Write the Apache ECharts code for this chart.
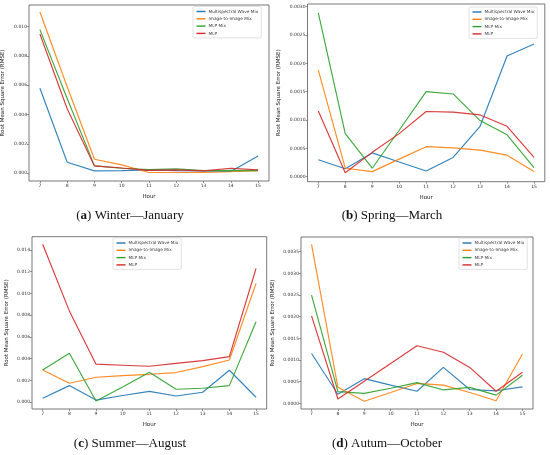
<!DOCTYPE html>
<html>
<head>
<meta charset="utf-8">
<script src="https://cdn.jsdelivr.net/npm/echarts@6/dist/echarts.min.js"></script>
<style>html,body{margin:0;padding:0;background:#fff}#c{width:550px;height:455px}</style>
</head>
<body>
<div id="c"></div>
<script>
const hours = [7, 8, 9, 10, 11, 12, 13, 14, 15];
const seriesNames = ['Multispectral Wave Mix', 'Image-to-Image Mix', 'MLP Mix', 'MLP'];
const seriesColors = ['#1f77b4', '#ff7f0e', '#2ca02c', '#d62728'];

// (a) Winter — January
const winterWave = [0.0058, 0.00075, 0.00016, 0.00018, 0.00023, 0.00018, 0.00016, 0.00012, 0.00118];
const winterI2I  = [0.0110, 0.0059, 0.00095, 0.00057, 0.00005, 0.00005, 0.00005, 0.0001, 0.00018];
const winterMix  = [0.0098, 0.0051, 0.0005, 0.00034, 0.00025, 0.0003, 0.00018, 0.0002, 0.00018];
const winterMLP  = [0.0095, 0.0044, 0.0005, 0.00036, 0.0002, 0.00023, 0.00016, 0.00034, 0.00023];
// (b) Spring — March
const springWave = [0.0003, 0.00014, 0.00042, 0.00026, 0.0001, 0.00034, 0.00089, 0.00213, 0.00234];
const springI2I  = [0.00188, 0.00015, 0.00009, 0.00031, 0.00053, 0.00051, 0.00047, 0.00038, 0.00009];
const springMix  = [0.00289, 0.00076, 0.00015, 0.00082, 0.0015, 0.00146, 0.00099, 0.00074, 0.00016];
const springMLP  = [0.00116, 0.00007, 0.00043, 0.00076, 0.00115, 0.00114, 0.00109, 0.00089, 0.00034];
// (c) Summer — August
const summerWave = [0.00037, 0.00153, 0.0002, 0.00062, 0.00100, 0.00058, 0.00092, 0.00294, 0.00046];
const summerI2I  = [0.00297, 0.00175, 0.0023, 0.00245, 0.00257, 0.00273, 0.00328, 0.00389, 0.01093];
const summerMix  = [0.00297, 0.0045, 0.00012, 0.0014, 0.00276, 0.0012, 0.00129, 0.00153, 0.0074];
const summerMLP  = [0.01452, 0.0084, 0.0035, 0.0034, 0.00331, 0.00358, 0.00383, 0.0042, 0.0123];
// (d) Autumn — October
const autumnWave = [0.00115, 0.00021, 0.00057, 0.00042, 0.00028, 0.00083, 0.00032, 0.00029, 0.00038];
const autumnI2I  = [0.00367, 0.00037, 0.00005, 0.00025, 0.00046, 0.00042, 0.00025, 0.00006, 0.00114];
const autumnMix  = [0.0025, 0.00027, 0.00023, 0.00035, 0.00048, 0.00031, 0.00037, 0.00019, 0.00065];
const autumnMLP  = [0.00202, 0.0001, 0.00051, 0.00092, 0.00133, 0.00118, 0.00083, 0.00028, 0.00072];

const yTicksA = [0, 0.002, 0.004, 0.006, 0.008, 0.010];
const yTicksB = [0, 0.0005, 0.001, 0.0015, 0.002, 0.0025, 0.003];
const yTicksC = [0, 0.002, 0.004, 0.006, 0.008, 0.010, 0.012, 0.014];
const yTicksD = [0, 0.0005, 0.001, 0.0015, 0.002, 0.0025, 0.003, 0.0035];

const captionLetters = ['a', 'b', 'c', 'd'];
const captionTexts = [' Winter\u2014January', ' Spring\u2014March', ' Summer\u2014August', ' Autum\u2014October'];
const yAxisTitle = 'Root Mean Square Error (RMSE)';
const xAxisTitle = 'Hour';

const panelData = [
  [winterWave, winterI2I, winterMix, winterMLP],
  [springWave, springI2I, springMix, springMLP],
  [summerWave, summerI2I, summerMix, summerMLP],
  [autumnWave, autumnI2I, autumnMix, autumnMLP]
];
const panelTicks = [yTicksA, yTicksB, yTicksC, yTicksD];
const panelDecimals = [3, 4, 3, 4];

// layout
const layout = [
  {left: 29, top: 5, width: 240, height: 176, yMin: -0.00053, yMax: 0.01148, nameGap: 23,
   legend: {left: 193, top: 6.5}, cap: {x: 130, y: 216}},
  {left: 307.5, top: 4, width: 237.3, height: 177.7, yMin: -0.000088, yMax: 0.003047, nameGap: 25.5,
   legend: {left: 469, top: 7}, cap: {x: 392, y: 216}},
  {left: 32, top: 236.7, width: 234.7, height: 172.3, yMin: -0.00062, yMax: 0.01522, nameGap: 22,
   legend: {left: 113, top: 238}, cap: {x: 130, y: 444}},
  {left: 301, top: 237, width: 232, height: 172, yMin: -0.00013, yMax: 0.00384, nameGap: 25,
   legend: {left: 459, top: 238}, cap: {x: 387, y: 444}}
];

const FONT = 'DejaVu Sans';
const grids = [], xAxes = [], yAxes = [], series = [], legends = [], graphics = [];

layout.forEach((p, k) => {
  grids.push({left: p.left, top: p.top, width: p.width, height: p.height, show: true,
    borderColor: '#555', borderWidth: 0.8, backgroundColor: '#fff', containLabel: false, outerBoundsMode: 'none'});
  xAxes.push({type: 'value', gridIndex: k, min: 6.6, max: 15.4,
    name: xAxisTitle, nameLocation: 'middle', nameGap: 12.5,
    nameTextStyle: {fontFamily: FONT, fontSize: 5.5, color: '#222'},
    axisLine: {show: false, onZero: false},
    axisTick: {show: true, length: 2, inside: false, customValues: hours, lineStyle: {color: '#555', width: 0.6}},
    axisLabel: {customValues: hours, fontFamily: FONT, fontSize: 4.5, color: '#333', margin: 2.5},
    splitLine: {show: false}});
  const dec = panelDecimals[k];
  yAxes.push({type: 'value', gridIndex: k, min: p.yMin, max: p.yMax,
    name: yAxisTitle, nameLocation: 'middle', nameGap: p.nameGap, nameRotate: 90,
    nameTextStyle: {fontFamily: FONT, fontSize: 5.5, color: '#222'},
    axisLine: {show: false, onZero: false},
    axisTick: {show: true, length: 2, customValues: panelTicks[k], lineStyle: {color: '#555', width: 0.6}},
    axisLabel: {customValues: panelTicks[k], fontFamily: FONT, fontSize: 4.5, color: '#333', margin: 2,
      formatter: v => Number(v).toFixed(dec)},
    splitLine: {show: false}});
  panelData[k].forEach((vals, s) => {
    series.push({type: 'line', name: seriesNames[s], xAxisIndex: k, yAxisIndex: k,
      data: hours.map((h, i) => [h, vals[i]]),
      symbol: 'none', showSymbol: false, color: seriesColors[s],
      lineStyle: {width: 1.15, color: seriesColors[s], opacity: 0.9}, animation: false});
  });
  legends.push({data: seriesNames, orient: 'vertical', left: p.legend.left, top: p.legend.top,
    icon: 'rect', itemWidth: 9, itemHeight: 1.4, itemGap: 2.3, padding: [2.5, 3, 2, 3.5],
    backgroundColor: 'rgba(255,255,255,0.85)', borderColor: '#ccc', borderWidth: 0.6, borderRadius: 1.5,
    textStyle: {fontFamily: FONT, fontSize: 4.3, color: '#333', padding: [0, 0, 0, -2], lineHeight: 5},
    selectedMode: false});
  graphics.push({type: 'text', x: p.cap.x, y: p.cap.y, silent: true,
    style: {text: '({b|' + captionLetters[k] + '})' + captionTexts[k],
      fontFamily: 'Liberation Serif', fontSize: 13, fill: '#111', align: 'center', verticalAlign: 'middle',
      rich: {b: {fontFamily: 'Liberation Serif', fontSize: 13, fontWeight: 'bold', fill: '#111'}}}});
});

const chart = echarts.init(document.getElementById('c'), null, {renderer: 'canvas'});
chart.setOption({
  backgroundColor: '#fff',
  animation: false,
  grid: grids, xAxis: xAxes, yAxis: yAxes, series: series, legend: legends, graphic: graphics
});
</script>
</body>
</html>
